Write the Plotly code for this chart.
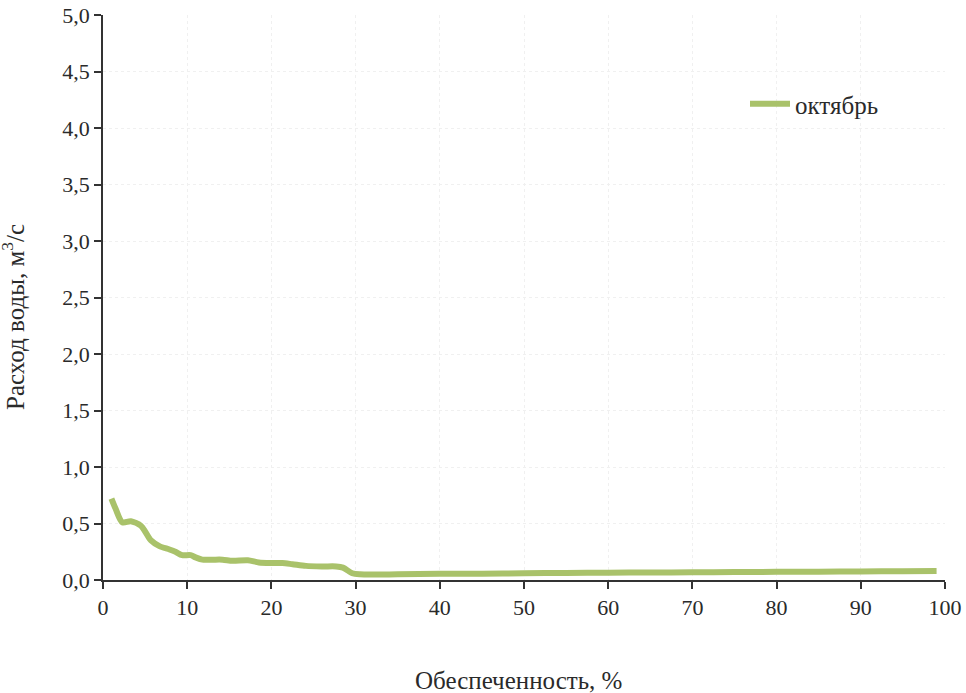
import plotly.graph_objects as go

x_vals = [1.0, 1.5, 2.3, 3.3, 4.5, 5.0, 5.7, 6.7, 7.9, 8.6, 9.4, 10.4, 11.0, 11.8, 13.0, 14.2, 15.4, 17.2, 18.5, 20.0, 21.3, 22.5, 24.1, 26.0, 27.7, 28.5, 29.6, 30.5, 35, 40, 45, 50, 55, 60, 65, 70, 75, 80, 85, 90, 95, 99]
y_vals = [0.72, 0.63, 0.51, 0.52, 0.48, 0.43, 0.35, 0.30, 0.27, 0.25, 0.22, 0.22, 0.20, 0.18, 0.18, 0.18, 0.17, 0.175, 0.155, 0.15, 0.15, 0.14, 0.125, 0.12, 0.12, 0.11, 0.06, 0.05, 0.05, 0.055, 0.055, 0.06, 0.062, 0.065, 0.066, 0.068, 0.07, 0.072, 0.074, 0.076, 0.078, 0.08]
series_name = "октябрь"
x_title = "Обеспеченность, %"
y_title = "Расход воды, м<sup>3</sup>/с"

font_family = "Liberation Serif, Times New Roman, serif"
text_color = "#2a2a2a"

W, H = 966, 693
L, R, T, B = 103, 21, 15, 113
PW, PH = W - L - R, H - T - B

fig = go.Figure()
fig.add_trace(go.Scatter(
    x=x_vals, y=y_vals, mode="lines", name=series_name,
    line=dict(color="#a9c26a", width=6, shape="spline", smoothing=0.8),
))

fig.update_layout(
    width=W, height=H,
    margin=dict(l=L, r=R, t=T, b=B),
    paper_bgcolor="white", plot_bgcolor="white",
    separators=", ",
    font=dict(family=font_family, size=22, color=text_color),
    showlegend=True,
    legend=dict(x=(745 - L) / PW, y=(H - B - 104) / PH, xanchor="left", yanchor="middle",
                bgcolor="rgba(0,0,0,0)", font=dict(size=25, color=text_color),
                itemwidth=40),
    xaxis=dict(
        range=[0, 100], dtick=10, tick0=0,
        showline=True, linecolor="#333", linewidth=1.8,
        ticks="outside", ticklen=7, tickcolor="#333", tickwidth=1.5,
        showgrid=True, gridcolor="#f0f0f0", griddash="dot", gridwidth=1,
        zeroline=False, ticklabeloverflow="allow",
        automargin=False,
    ),
    yaxis=dict(
        range=[0, 5], dtick=0.5, tick0=0, tickformat=".1f",
        showline=True, linecolor="#333", linewidth=1.8,
        ticks="outside", ticklen=7, tickcolor="#333", tickwidth=1.5,
        showgrid=True, gridcolor="#f0f0f0", griddash="dot", gridwidth=1,
        zeroline=False, ticklabeloverflow="allow",
        automargin=False,
    ),
    annotations=[
        dict(text=x_title, xref="paper", yref="paper",
             x=(518 - L) / PW, y=(H - B - 680) / PH,
             xanchor="center", yanchor="middle", showarrow=False,
             font=dict(size=25, color=text_color, family=font_family)),
        dict(text=y_title, xref="paper", yref="paper",
             x=(13 - L) / PW, y=(H - B - 317) / PH, textangle=-90,
             xanchor="center", yanchor="middle", showarrow=False,
             font=dict(size=25, color=text_color, family=font_family)),
    ],
)

# Page styling only: remove the default body margin so the figure sits at the window origin.
fig.write_html("out.html",
               config={"displayModeBar": False},
               post_script="document.body.style.margin='0';document.body.style.overflow='hidden';")
